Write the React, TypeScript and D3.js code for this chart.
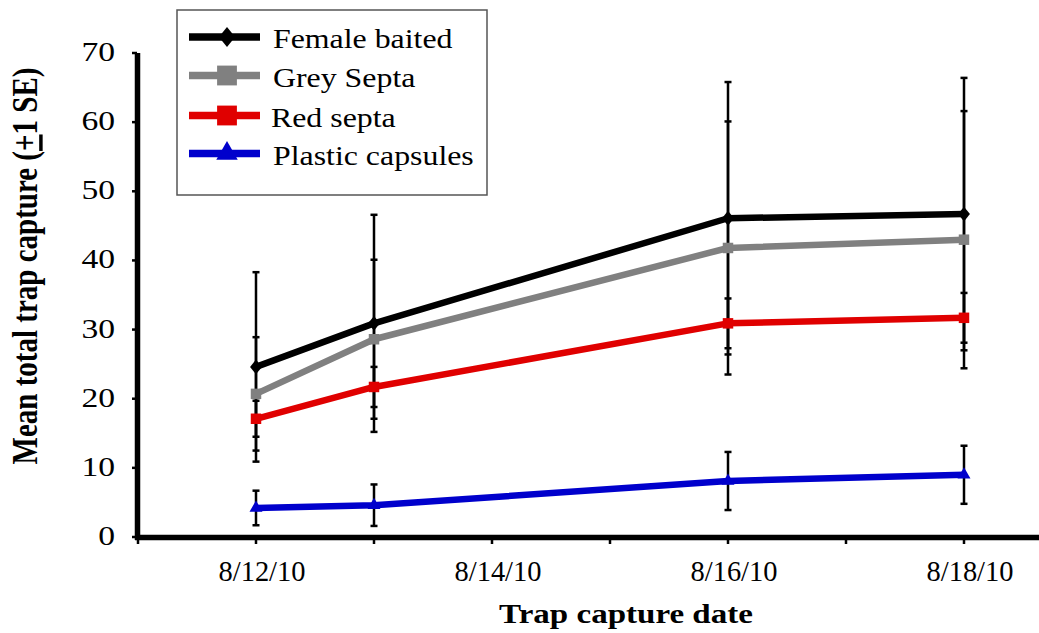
import * as d3 from "d3";

const W = 1039;
const H = 633;

const dates = ["2010-08-12", "2010-08-13", "2010-08-16", "2010-08-18"];
const tickDates = ["2010-08-12", "2010-08-14", "2010-08-16", "2010-08-18"];
const yTicks = [0, 10, 20, 30, 40, 50, 60, 70];

const femaleMean = [24.6, 30.9, 46.1, 46.7];
const femaleSE = [13.7, 15.7, 19.7, 19.7];
const greyMean = [20.7, 28.6, 41.8, 43.0];
const greySE = [8.2, 11.5, 18.3, 18.6];
const redMean = [17.1, 21.7, 30.9, 31.7];
const redSE = [2.6, 2.9, 3.6, 3.6];
const blueMean = [4.2, 4.6, 8.1, 9.0];
const blueSE = [2.5, 3.0, 4.2, 4.2];

const series = [
  { name: "Female baited", color: "#000000", marker: "diamond", mean: femaleMean, se: femaleSE },
  { name: "Grey Septa", color: "#808080", marker: "square", mean: greyMean, se: greySE },
  { name: "Red septa", color: "#e00000", marker: "square", mean: redMean, se: redSE },
  { name: "Plastic capsules", color: "#0000cc", marker: "triangle", mean: blueMean, se: blueSE },
];

const FONT = "Liberation Serif, Times New Roman, serif";
const parse = d3.timeParse("%Y-%m-%d");

const x = d3
  .scaleTime()
  .domain([parse("2010-08-11")!, parse("2010-08-19")!])
  .range([138, 1082]);
const y = d3.scaleLinear().domain([0, 70]).range([537, 53]);

function Marker({ type, cx, cy, size, color }: any) {
  const path = d3
    .symbol()
    .type(type === "diamond" ? d3.symbolDiamond2 : type === "square" ? d3.symbolSquare2 : d3.symbolTriangle2)
    .size(size)();
  if (type === "diamond") {
    return <path d={path!} transform={`translate(${cx},${cy}) scale(0.8,1)`} fill={color} />;
  }
  return <path d={path!} transform={`translate(${cx},${cy})`} fill={color} />;
}

export default function App() {
  const line = d3
    .line<number>()
    .x((_, i) => x(parse(dates[i])!))
    .y((d) => y(d));

  const dayTicks = d3.timeDay.range(parse("2010-08-11")!, parse("2010-08-19")!);

  return (
    <svg width={W} height={H} style={{ position: "absolute", left: 0, top: 0, background: "#fff" }}>
      {/* error bars */}
      {series.map((s) =>
        s.mean.map((m, i) => {
          const cx = x(parse(dates[i])!);
          const y1 = y(m + s.se[i]);
          const y0 = y(m - s.se[i]);
          return (
            <g key={`${s.name}-${i}`} stroke="#000" strokeWidth={2.5}>
              <line x1={cx} x2={cx} y1={y1} y2={y0} />
              <line x1={cx - 3.5} x2={cx + 3.5} y1={y1} y2={y1} />
              <line x1={cx - 3.5} x2={cx + 3.5} y1={y0} y2={y0} />
            </g>
          );
        }),
      )}

      {/* lines + markers */}
      {[...series].reverse().map((s) => (
        <g key={s.name}>
          <path d={line(s.mean)!} fill="none" stroke={s.color} strokeWidth={6.5} strokeLinejoin="round" />
          {s.mean.map((m, i) => (
            <Marker key={i} type={s.marker} cx={x(parse(dates[i])!)} cy={y(m)} size={s.marker === "triangle" ? 120 : 140} color={s.color} />
          ))}
        </g>
      ))}

      {/* axes */}
      <line x1={137.5} x2={137.5} y1={53} y2={540} stroke="#000" strokeWidth={5.5} />
      <line x1={135} x2={W} y1={537.5} y2={537.5} stroke="#000" strokeWidth={5.5} />
      {yTicks.map((t) => (
        <line key={t} x1={132} x2={137} y1={y(t)} y2={y(t)} stroke="#000" strokeWidth={2.5} />
      ))}
      {dayTicks.map((d) => (
        <line key={+d} x1={x(d)} x2={x(d)} y1={538} y2={544} stroke="#000" strokeWidth={2.5} />
      ))}

      {/* y tick labels */}
      {yTicks.map((t) => (
        <text
          key={t}
          transform={`translate(115,${y(t) + 8}) scale(1.2,1)`}
          textAnchor="end"
          style={{ fontFamily: FONT }}
          fontSize={28}
        >
          {t}
        </text>
      ))}

      {/* x tick labels */}
      {tickDates.map((d) => (
        <text
          key={d}
          transform={`translate(${x(parse(d)!) + 6},581) scale(0.95,1)`}
          textAnchor="middle"
          style={{ fontFamily: FONT }}
          fontSize={30}
        >
          {d3.timeFormat("%-m/%-d/%y")(parse(d)!)}
        </text>
      ))}

      {/* axis titles */}
      <text
        transform="translate(626,623) scale(1.18,1)"
        textAnchor="middle"
        style={{ fontFamily: FONT }}
        fontSize={28}
        fontWeight="bold"
      >
        Trap capture date
      </text>
      <text
        transform="translate(37,266) scale(1.2,1) rotate(-90)"
        textAnchor="middle"
        style={{ fontFamily: FONT }}
        fontSize={29}
        fontWeight="bold"
      >
        Mean total trap capture (
        <tspan textDecoration="underline">+</tspan>1 SE)
      </text>

      {/* legend */}
      <rect x={177} y={10} width={310} height={185} fill="#fff" stroke="#555" strokeWidth={1.5} />
      {series.map((s, i) => {
        const ly = [37, 75.5, 115.5, 153.5][i];
        return (
          <g key={s.name}>
            <line x1={189} x2={260} y1={ly} y2={ly} stroke={s.color} strokeWidth={7.5} />
            <Marker type={s.marker} cx={227} cy={ly} size={s.marker === "diamond" ? 260 : s.marker === "square" ? 500 : 330} color={s.color} />
            <text
              transform={`translate(${i === 2 ? 271 : 273},${ly + 11}) scale(1.18,1)`}
              style={{ fontFamily: FONT }}
              fontSize={27}
            >
              {s.name}
            </text>
          </g>
        );
      })}
    </svg>
  );
}
